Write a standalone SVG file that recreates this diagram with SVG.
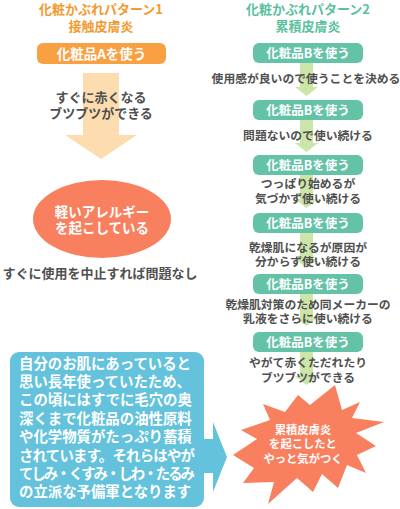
<svg xmlns="http://www.w3.org/2000/svg" width="400" height="509" viewBox="0 0 400 509">
<style>
text{font-family:"Noto Sans CJK JP","Noto Sans",sans-serif;font-weight:700;}
.c{text-anchor:middle;}
.tO{fill:#F39A2E;font-size:13px;}
.tG{fill:#5CBF9E;font-size:13px;}
.btnO{fill:#F8A042;}
.btnG{fill:#64C2A6;}
.w{fill:#fff;}
.g{fill:#505050;}
.arrG{fill:#CBE6A8;}
.arrO{fill:#FDDDB0;}
.coral{fill:#F9805F;}
.blue{fill:#64C2DC;}
</style>
<rect width="400" height="509" fill="#fff"/>
<g id="connectors">
<polygon class="arrO" points="83,73 119,73 119,135 137,135 101,159 65,135 83,135"/>
<polygon class="arrG" points="300,63 313,63 313,87 318,87 306.5,96 295,87 300,87"/>
<polygon class="arrG" points="300,120 313,120 313,143 318,143 306.5,152 295,143 300,143"/>
<polygon class="arrG" points="300,174 313,174 313,199 318,199 306.5,208 295,199 300,199"/>
<polygon class="arrG" points="300,233 313,233 313,259 318,259 306.5,268 295,259 300,259"/>
<polygon class="arrG" points="300,293 313,293 313,317 318,317 306.5,326 295,317 300,317"/>
<polygon class="arrG" points="300,352 313,352 313,376 318,376 306.5,385 295,376 300,376"/>
</g>
<g id="title1">
<text class="c tO" x="101" y="14">化粧かぶれパターン1</text>
<text class="c tO" x="101" y="31">接触皮膚炎</text>
</g>
<g id="title2">
<text class="c tG" x="308" y="14">化粧かぶれパターン2</text>
<text class="c tG" x="308" y="31">累積皮膚炎</text>
</g>
<g id="btnA">
<rect class="btnO" x="37" y="43" width="129" height="21" rx="6"/>
<text class="c w" x="101.5" y="58.5" font-size="13.5">化粧品Aを使う</text>
</g>
<g id="txtA1">
<text class="c g" x="101" y="102" font-size="13">すぐに赤くなる</text>
<text class="c g" x="101" y="118" font-size="13">ブツブツができる</text>
</g>
<g id="allergy">
<ellipse class="coral" cx="102" cy="219" rx="69" ry="39"/>
<text class="c w" x="102" y="217" font-size="13.5">軽いアレルギー</text>
<text class="c w" x="102" y="233" font-size="13.5">を起こしている</text>
</g>
<g id="txtA2">
<text class="c g" x="100" y="278" font-size="13">すぐに使用を中止すれば問題なし</text>
</g>
<g id="btnB1">
<rect class="btnG" x="253" y="43" width="110" height="20" rx="6"/>
<text class="c w" x="308" y="57.5" font-size="12.5">化粧品Bを使う</text>
</g>
<g id="txtB1">
<text class="c g" x="306" y="82.5" font-size="11.8">使用感が良いので使うことを決める</text>
</g>
<g id="btnB2">
<rect class="btnG" x="253" y="100" width="110" height="20" rx="6"/>
<text class="c w" x="308" y="114.5" font-size="12.5">化粧品Bを使う</text>
</g>
<g id="txtB2">
<text class="c g" x="308" y="139.5" font-size="11.8">問題ないので使い続ける</text>
</g>
<g id="btnB3">
<rect class="btnG" x="253" y="155" width="110" height="20" rx="6"/>
<text class="c w" x="308" y="169.5" font-size="12.5">化粧品Bを使う</text>
</g>
<g id="txtB3">
<text class="c g" x="308" y="187.5" font-size="11.8">つっぱり始めるが</text>
<text class="c g" x="308" y="202.5" font-size="11.8">気づかず使い続ける</text>
</g>
<g id="btnB4">
<rect class="btnG" x="253" y="213" width="110" height="20" rx="6"/>
<text class="c w" x="308" y="227.5" font-size="12.5">化粧品Bを使う</text>
</g>
<g id="txtB4">
<text class="c g" x="308" y="251.5" font-size="11.8">乾燥肌になるが原因が</text>
<text class="c g" x="308" y="265.5" font-size="11.8">分からず使い続ける</text>
</g>
<g id="btnB5">
<rect class="btnG" x="253" y="274" width="110" height="20" rx="6"/>
<text class="c w" x="308" y="288.5" font-size="12.5">化粧品Bを使う</text>
</g>
<g id="txtB5">
<text class="c g" x="308" y="308.5" font-size="11.8">乾燥肌対策のため同メーカーの</text>
<text class="c g" x="308" y="322.5" font-size="11.8">乳液をさらに使い続ける</text>
</g>
<g id="btnB6">
<rect class="btnG" x="253" y="332" width="110" height="20" rx="6"/>
<text class="c w" x="308" y="346.5" font-size="12.5">化粧品Bを使う</text>
</g>
<g id="txtB6">
<text class="c g" x="308" y="366.5" font-size="11.8">やがて赤くただれたり</text>
<text class="c g" x="308" y="381.5" font-size="11.8">ブツブツができる</text>
</g>
<g id="burst">
<polygon class="coral" points="335,385 342,410 360,402 352,418 384,422 356,433 376,446 357,455 366,473 347,465 338,488 322,474 313,492 297,478 268,504 274,482 243,483 254,468 233,455 257,439 241,430 270,420 263,404 285,412 298,395 310,405"/>
<text class="c w" x="303" y="434" font-size="11.3">累積皮膚炎</text>
<text class="c w" x="303" y="448" font-size="11.3">を起こしたと</text>
<text class="c w" x="303" y="462.5" font-size="11.3">やっと気がつく</text>
</g>
<g id="note">
<rect class="blue" x="10" y="352" width="194" height="155" rx="9"/>
<polygon class="blue" points="200,439 213,439 213,422 227,457 213,492 213,473 200,473"/>
<g class="w" font-size="14.4">
<text x="19" y="368.5">自分のお肌にあっていると</text>
<text x="19" y="386.9">思い長年使っていたため、</text>
<text x="19" y="405.3">この頃にはすでに毛穴の奥</text>
<text x="19" y="423.7">深くまで化粧品の油性原料</text>
<text x="19" y="442.1">や化学物質がたっぷり蓄積</text>
<text x="19" y="460.5" textLength="176" lengthAdjust="spacing">されています。それらはやが</text>
<text x="19" y="478.9" textLength="176" lengthAdjust="spacing">てしみ・くすみ・しわ・たるみ</text>
<text x="19" y="497.3">の立派な予備軍となります</text>
</g>
</g>
</svg>
